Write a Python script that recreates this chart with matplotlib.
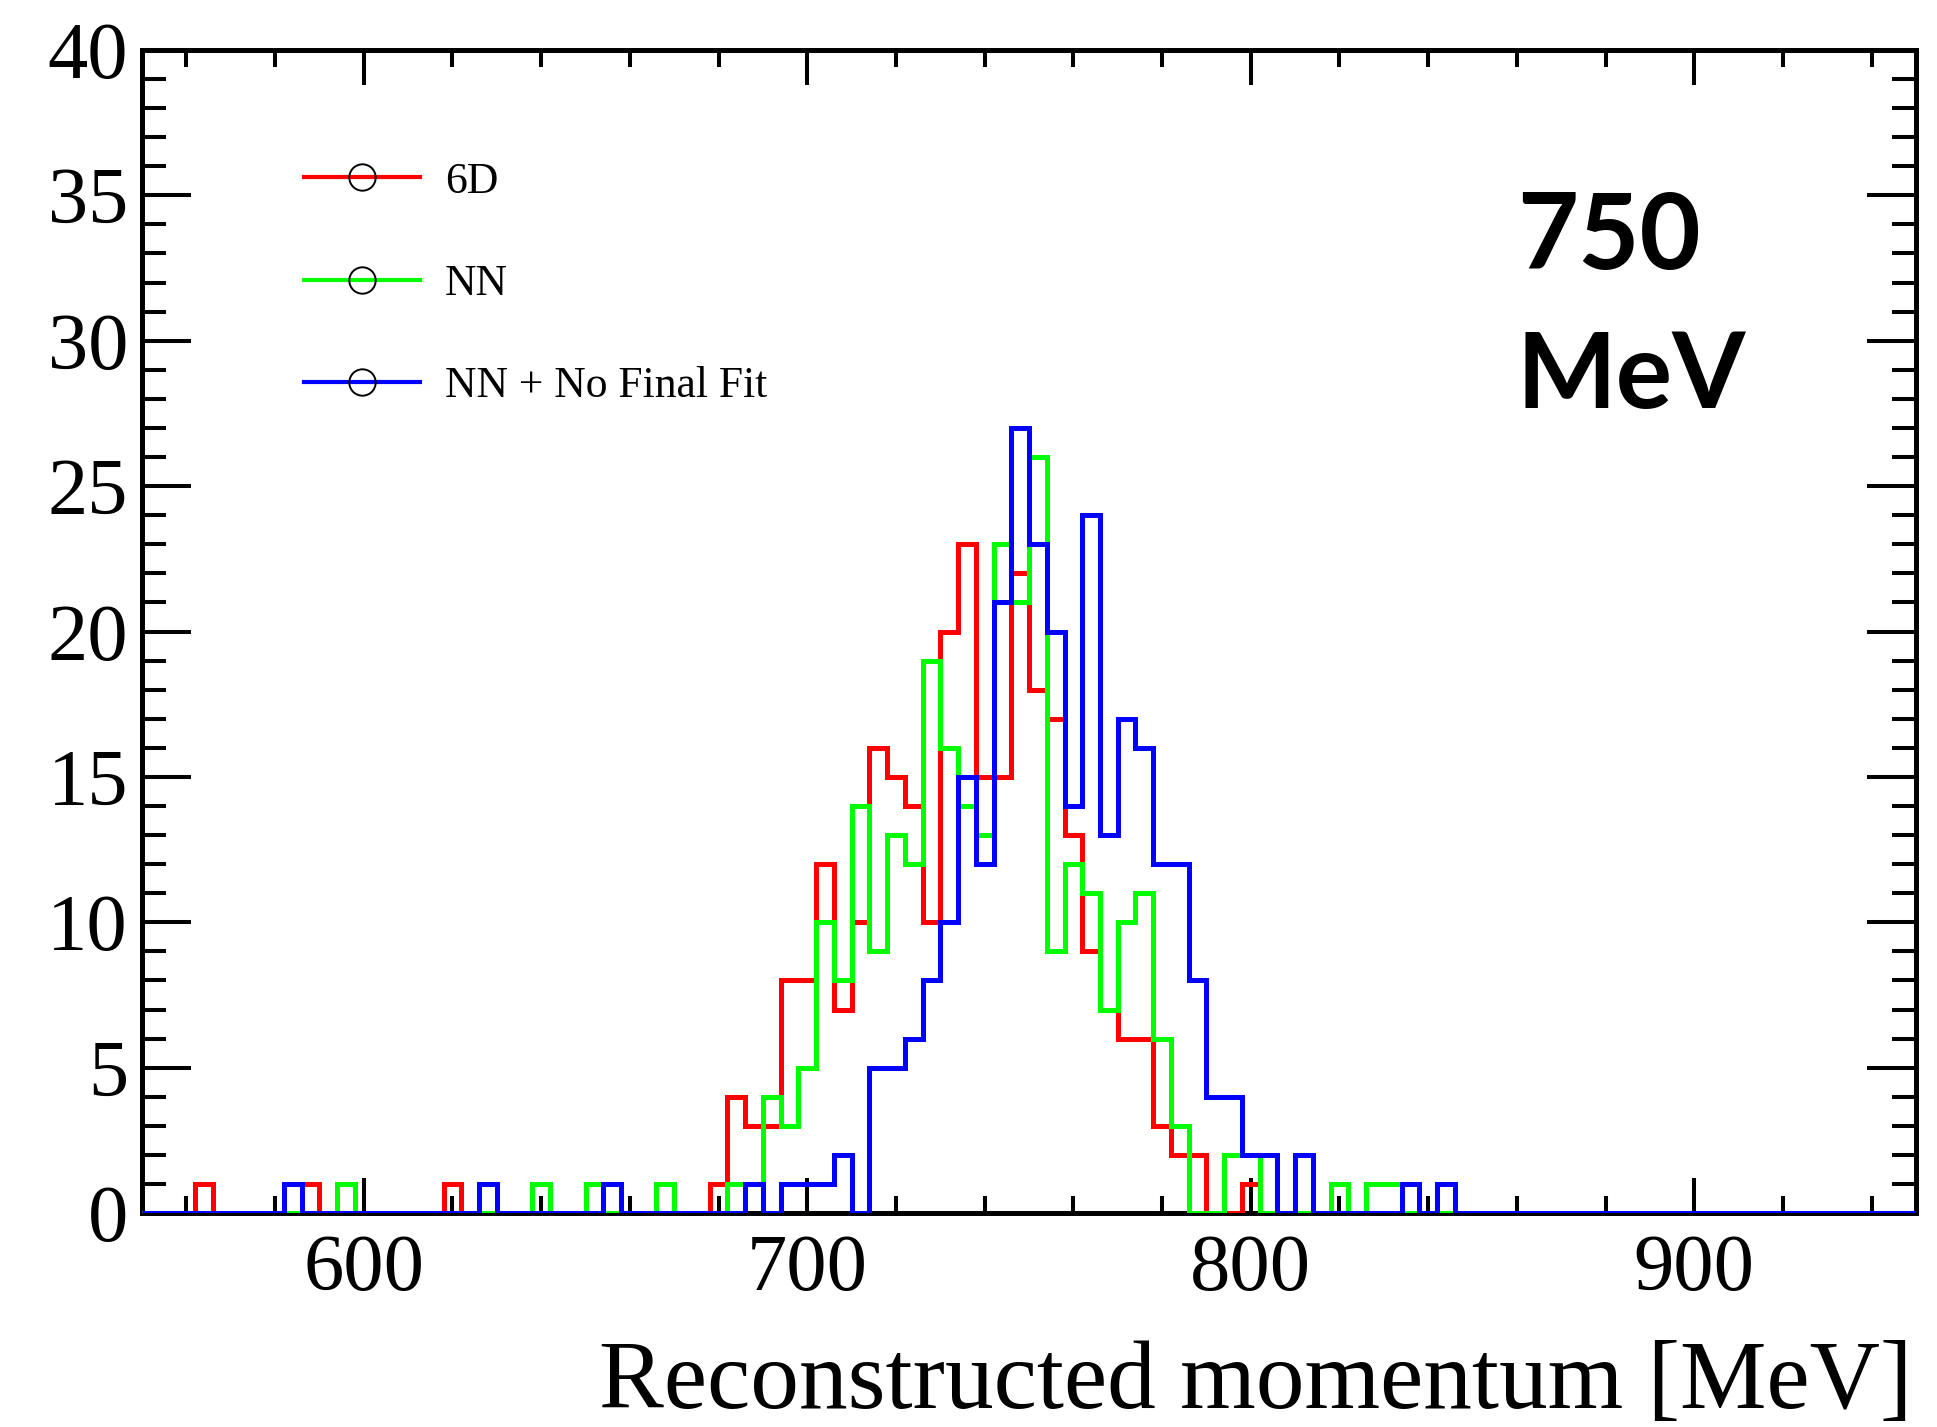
import numpy as np
import matplotlib
matplotlib.use("Agg")
import matplotlib.pyplot as plt
from matplotlib.lines import Line2D
from matplotlib.ticker import MultipleLocator

# binning of the momentum histograms: 100 bins of 4 MeV
P_MIN, P_MAX, P_BIN = 550, 950, 4

# entries per bin, 10 bins per row (550-590, 590-630, ...)
counts_6d = [
    0, 0, 0, 1, 0, 0, 0, 0, 0, 1,
    0, 0, 0, 0, 0, 0, 0, 1, 0, 0,
    0, 0, 0, 0, 0, 0, 0, 0, 0, 0,
    0, 0, 1, 4, 3, 3, 8, 8, 12, 7,
    10, 16, 15, 14, 10, 20, 23, 15, 15, 22,
    18, 17, 13, 9, 7, 6, 6, 3, 2, 2,
    0, 0, 1, 0, 0, 0, 0, 0, 0, 0,
    0, 0, 0, 0, 0, 0, 0, 0, 0, 0,
    0, 0, 0, 0, 0, 0, 0, 0, 0, 0,
    0, 0, 0, 0, 0, 0, 0, 0, 0, 0,
]
counts_nn = [
    0, 0, 0, 0, 0, 0, 0, 0, 0, 0,
    0, 1, 0, 0, 0, 0, 0, 0, 0, 0,
    0, 0, 1, 0, 0, 1, 0, 0, 0, 1,
    0, 0, 0, 1, 1, 4, 3, 5, 10, 8,
    14, 9, 13, 12, 19, 16, 14, 13, 23, 21,
    26, 9, 12, 11, 7, 10, 11, 6, 3, 0,
    0, 2, 2, 0, 0, 0, 0, 1, 0, 1,
    1, 0, 0, 0, 0, 0, 0, 0, 0, 0,
    0, 0, 0, 0, 0, 0, 0, 0, 0, 0,
    0, 0, 0, 0, 0, 0, 0, 0, 0, 0,
]
counts_nn_nofit = [
    0, 0, 0, 0, 0, 0, 0, 0, 1, 0,
    0, 0, 0, 0, 0, 0, 0, 0, 0, 1,
    0, 0, 0, 0, 0, 0, 1, 0, 0, 0,
    0, 0, 0, 0, 1, 0, 1, 1, 1, 2,
    0, 5, 5, 6, 8, 10, 15, 12, 21, 27,
    23, 20, 14, 24, 13, 17, 16, 12, 12, 8,
    4, 4, 2, 2, 0, 2, 0, 0, 0, 0,
    0, 1, 0, 1, 0, 0, 0, 0, 0, 0,
    0, 0, 0, 0, 0, 0, 0, 0, 0, 0,
    0, 0, 0, 0, 0, 0, 0, 0, 0, 0,
]

series = [
    ("6D", counts_6d, "#ff0000"),
    ("NN", counts_nn, "#00ff00"),
    ("NN + No Final Fit", counts_nn_nofit, "#0000ff"),
]

SERIF = "Liberation Serif"

fig = plt.figure(figsize=(19.37, 14.27), dpi=100)
ax = fig.add_axes([0.0733, 0.1499, 0.9159, 0.8151])

edges = np.arange(P_MIN, P_MAX + P_BIN, P_BIN)
handles = []
for label, vals, col in series:
    ax.stairs(vals, edges, color=col, lw=3.6, zorder=3)
    handles.append(Line2D([], [], color=col, lw=3.0, marker="o", ms=19,
                          mfc="none", mec="black", mew=1.4))

ax.set_xlim(P_MIN, P_MAX)
ax.set_ylim(0, 40)
ax.xaxis.set_major_locator(MultipleLocator(100))
ax.xaxis.set_minor_locator(MultipleLocator(20))
ax.yaxis.set_major_locator(MultipleLocator(5))
ax.yaxis.set_minor_locator(MultipleLocator(1))

for s in ax.spines.values():
    s.set_linewidth(3.6)
ax.tick_params(which="both", direction="in", top=True, right=True, width=2.9)
ax.tick_params(axis="y", which="major", length=35, pad=10)
ax.tick_params(axis="y", which="minor", length=17)
ax.tick_params(axis="x", which="major", length=25, pad=15)
ax.tick_params(axis="x", which="minor", length=12)
for t in ax.get_xticklabels() + ax.get_yticklabels():
    t.set_fontfamily(SERIF)
    t.set_fontsize(58)

ax.set_xlabel("Reconstructed momentum [MeV]", fontfamily=SERIF, fontsize=70)
ax.xaxis.label.set_ha("right")
ax.xaxis.label.set_va("baseline")
ax.xaxis.set_label_coords(0.9977, -0.1677)

ax.legend(handles, [s[0] for s in series], loc="upper left",
          bbox_to_anchor=(0.0915, 0.904), frameon=False, numpoints=1,
          prop={"family": SERIF, "size": 31.4}, handlelength=2.66,
          handletextpad=0.57, labelspacing=1.43, borderpad=0, borderaxespad=0)

# beam momentum tag, last line sits on the baseline
ax.text(0.775, 0.6922, "750\nMeV", transform=ax.transAxes, ha="left",
        va="baseline", fontfamily="Lato", fontweight="bold", fontsize=76,
        linespacing=1.55)

fig.savefig("out.png", dpi=100)
